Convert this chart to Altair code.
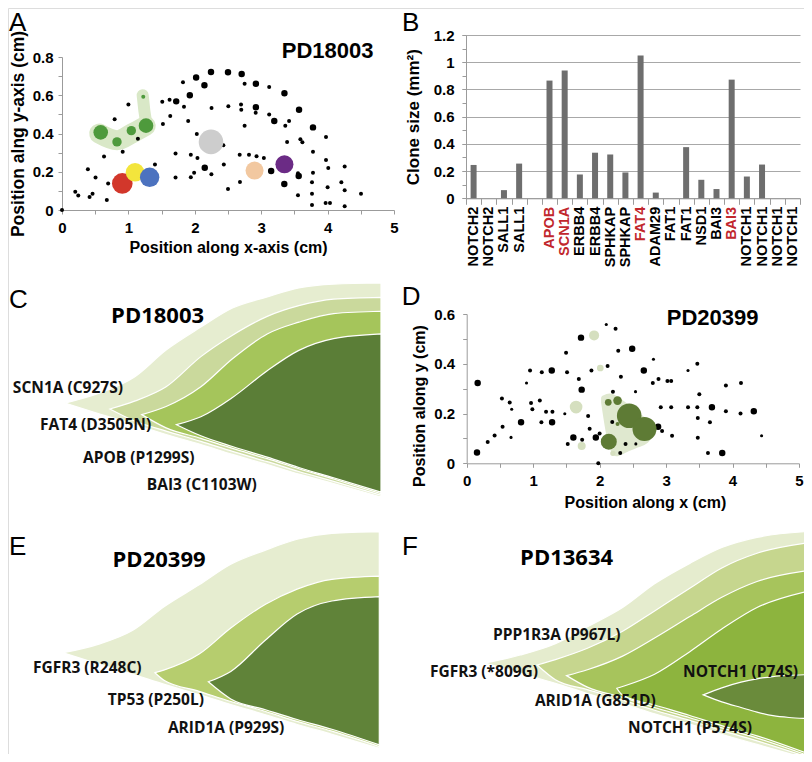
import altair as alt
import pandas as pd

W, H = 796, 746
AXF = "Liberation Sans"
FISHF = "Open Sans"
AXGRAY = "#9b9b9b"

# ---------------- Panel A (PD18003 map) ----------------
# (x cm, y cm, relative clone area)
a_dots = [(0, 0, 1), (0.2, 0.095, 1), (0.245, 0.076, 1), (0.39, 0.213, 1), (0.415, 0.068, 1),
          (0.46, 0.085, 1), (0.505, 0.17, 1), (0.633, 0.28, 1), (0.675, 0.052, 1), (0.695, 0.138, 1),
          (0.793, 0.475, 1), (0.914, 0.305, 1), (1.0, 0.551, 1), (1.143, 0.373, 1), (1.40, 0.238, 1),
          (1.52, 0.45, 1), (1.51, 0.566, 1), (1.62, 0.576, 1), (1.72, 0.568, 2.6), (1.63, 0.491, 1),
          (1.822, 0.668, 1), (1.837, 0.54, 1), (1.925, 0.60, 2.6), (1.90, 0.465, 1), (1.71, 0.296, 1),
          (1.71, 0.17, 1), (1.94, 0.289, 1), (1.94, 0.171, 1), (1.99, 0.195, 1), (2.02, 0.693, 2.6),
          (2.03, 0.398, 1), (2.04, 0.272, 1), (2.145, 0.652, 2.6), (2.15, 0.221, 2.6), (2.244, 0.722, 2.6),
          (2.252, 0.533, 1), (2.25, 0.187, 1), (2.43, 0.338, 1), (2.437, 0.238, 1), (2.5, 0.72, 2.6),
          (2.505, 0.542, 1), (2.5, 0.11, 1), (2.706, 0.711, 2.6), (2.75, 0.66, 1), (2.92, 0.66, 2.6),
          (3.12, 0.643, 1), (3.35, 0.61, 2.6), (2.696, 0.551, 1), (2.70, 0.524, 1), (2.92, 0.537, 2.6),
          (2.917, 0.509, 1), (3.12, 0.50, 1), (3.197, 0.465, 2.6), (3.363, 0.441, 1), (3.42, 0.465, 1),
          (3.57, 0.524, 2.6), (2.75, 0.441, 1), (3.39, 0.356, 1), (3.59, 0.37, 1), (3.62, 0.354, 1),
          (3.78, 0.432, 2.6), (3.976, 0.382, 1), (3.78, 0.305, 1), (2.676, 0.289, 1), (2.816, 0.289, 1),
          (2.93, 0.281, 1), (3.04, 0.272, 1), (3.15, 0.204, 2.6), (3.976, 0.261, 1), (4.01, 0.22, 1),
          (3.554, 0.192, 1), (3.565, 0.178, 2.6), (3.78, 0.195, 1), (4.257, 0.228, 1), (3.348, 0.136, 2.6),
          (2.68, 0.146, 1), (3.554, 0.077, 1), (3.765, 0.145, 1), (3.765, 0.085, 1), (3.765, 0.026, 1),
          (4.0, 0.119, 1), (4.207, 0.145, 1), (4.257, 0.103, 1), (3.97, 0.037, 1), (4.036, 0.037, 1),
          (4.257, 0.019, 1), (4.503, 0.085, 1)]
a_clone_x = [0.583, 0.828, 1.044, 1.265, 1.224, 0.908, 1.10, 1.32, 2.244, 2.90, 3.35]
a_clone_y = [0.406, 0.356, 0.415, 0.441, 0.592, 0.139, 0.197, 0.171, 0.356, 0.206, 0.239]
a_clone_s = [13.3, 5.5, 5.5, 13.3, 1.0, 26.5, 21.6, 23.5, 37.8, 20.3, 20.3]
a_clone_id = ["green", "green", "green", "green", "green", "red", "yellow", "blue", "grey", "peach", "purple"]
a_patch_body_x = [0.56, 0.83, 1.05, 1.26]
a_patch_body_y = [0.40, 0.365, 0.40, 0.44]
a_patch_arm_x = [1.27, 1.24, 1.215]
a_patch_arm_y = [0.45, 0.52, 0.60]

# ---------------- Panel B (clone sizes) ----------------
b_genes = ["NOTCH2", "NOTCH2", "SALL1", "SALL1", "", "APOB", "SCN1A", "ERBB4", "ERBB4", "SPHKAP",
           "SPHKAP", "FAT4", "ADAM29", "FAT1", "FAT1", "NSD1", "BAI3", "BAI3", "NOTCH1", "NOTCH1",
           "NOTCH1", "NOTCH1"]
b_size = [0.245, 0, 0.06, 0.255, 0, 0.865, 0.94, 0.175, 0.335, 0.322, 0.19, 1.05, 0.042, 0, 0.376,
          0.136, 0.068, 0.872, 0.16, 0.248, 0, 0]
b_highlight = [5, 6, 11, 17]

# ---------------- Panel D (PD20399 map) ----------------
d_dots = [(0.155, 0.043, 2.6), (0.316, 0.086, 1), (0.42, 0.112, 1), (0.165, 0.323, 2.6), (0.54, 0.147, 1),
          (0.53, 0.26, 1), (0.647, 0.244, 1), (0.677, 0.217, 0.6), (0.667, 0.104, 0.6), (0.818, 0.165, 2.6),
          (0.90, 0.323, 0.6), (0.953, 0.373, 1), (0.968, 0.242, 1), (0.988, 0.217, 1), (1.10, 0.252, 1),
          (1.124, 0.165, 1), (1.13, 0.366, 1), (1.194, 0.207, 1), (1.28, 0.373, 2.6), (1.29, 0.207, 1),
          (1.285, 0.165, 2.6), (1.476, 0.199, 0.6), (1.495, 0.444, 1), (1.51, 0.366, 1), (1.52, 0.078, 1),
          (1.605, 0.104, 2.6), (1.687, 0.339, 1), (1.72, 0.505, 2.6), (1.73, 0.296, 2.6), (1.737, 0.095, 1),
          (1.827, 0.19, 1), (1.85, 0.139, 1), (1.877, 0.373, 1), (1.943, 0.104, 2.6), (1.98, 0.0, 1),
          (2.0, 0.12, 1), (2.12, 0.391, 1), (2.10, 0.558, 0.6), (2.2, 0.288, 1), (2.19, 0.166, 1),
          (2.24, 0.541, 1), (2.28, 0.452, 1), (2.32, 0.348, 1), (2.31, 0.041, 1), (2.39, 0.078, 1),
          (2.49, 0.46, 2.6), (2.81, 0.418, 0.6), (2.665, 0.373, 2.6), (2.54, 0.288, 0.6), (2.8, 0.323, 1),
          (2.886, 0.339, 1), (3.02, 0.331, 1), (3.077, 0.331, 1), (3.33, 0.373, 0.6), (3.47, 0.40, 1),
          (3.5, 0.277, 1), (2.92, 0.225, 1), (3.077, 0.225, 1), (3.33, 0.225, 1), (3.47, 0.225, 1),
          (3.69, 0.225, 2.6), (3.477, 0.182, 1), (3.9, 0.209, 1), (4.12, 0.2, 1), (4.32, 0.209, 2.6),
          (3.90, 0.313, 1), (4.127, 0.323, 1), (3.66, 0.165, 1), (2.88, 0.147, 2.6), (2.94, 0.13, 1),
          (3.09, 0.111, 1), (3.477, 0.103, 1), (3.63, 0.041, 1), (3.845, 0.041, 2.6), (4.437, 0.111, 0.6),
          (2.545, 0.078, 0.6)]
d_clone_x = [1.646, 1.917, 2.01, 1.73, 2.2, 2.13, 2.27, 2.27, 2.138, 2.445, 2.675]
d_clone_y = [0.226, 0.514, 0.383, 0.07, 0.04, 0.245, 0.252, 0.158, 0.087, 0.191, 0.138]
d_clone_s = [10.0, 6.3, 2.8, 4.0, 1.8, 2.8, 4.6, 1.0, 16.0, 37.8, 36.0]
d_clone_id = ["light", "light", "light", "light", "light", "dark", "dark", "dark", "dark", "dark", "dark"]
d_patch_x = [2.06, 2.15, 2.25, 2.4, 2.55, 2.7, 2.78]
d_patch_top = [0.262, 0.27, 0.26, 0.23, 0.2, 0.165, 0.14]
d_patch_bot = [0.245, 0.1, 0.038, 0.055, 0.072, 0.09, 0.12]

# ---------------- Fish plots: (time, upper fraction, lower fraction) per clone ----------------
c_clones = [
    ([0, 11, 22, 32, 43, 53, 64, 74, 85, 100],
     [43.9, 48.6, 56.1, 68.7, 79.4, 88.3, 93.5, 97.7, 99.5, 100],
     [43.9, 38.8, 33.9, 29.2, 24.5, 19.9, 15.2, 10.7, 6.3, 0]),
    ([14.2, 22, 32, 43, 53, 64, 74, 85, 100],
     [41.1, 44.8, 51.5, 65.6, 75.6, 84.4, 89.4, 92.5, 93.3],
     [41.1, 35.5, 30.8, 26.0, 21.3, 16.5, 11.9, 7.3, 0.8]),
    ([24.3, 32, 43, 53, 64, 74, 85, 100],
     [38.5, 42.3, 51.5, 64.6, 76.2, 81.7, 85.7, 86.8],
     [38.5, 32.3, 27.4, 22.7, 17.9, 13.2, 8.4, 1.6]),
    ([35.3, 43, 53, 64, 74, 85, 100],
     [33.8, 37.5, 46.5, 59.0, 68.5, 74.0, 76.2],
     [33.8, 28.6, 23.6, 18.6, 13.8, 9.0, 2.3]),
]
c_labels = ["SCN1A (C927S)", "FAT4 (D3505N)", "APOB (P1299S)", "BAI3 (C1103W)"]
c_label_t = [-16.5, -7.9, 5.7, 25.9]
c_label_f = [48.6, 31.3, 15.9, 3.3]

e_clones = [
    ([0, 11, 22, 32, 43, 53, 64, 74, 85, 100],
     [44.1, 48.0, 54.5, 65.5, 75.5, 85.0, 91.5, 96.5, 99.2, 100],
     [44.1, 39.0, 34.2, 29.5, 24.8, 20.2, 15.5, 11.0, 6.5, 0]),
    ([29, 32, 43, 53, 64, 74, 85, 100],
     [34.9, 36.2, 43.5, 55.5, 66.5, 73.5, 78.0, 79.5],
     [34.9, 31.3, 26.3, 21.6, 17.0, 12.4, 7.9, 0.8]),
    ([45.9, 53, 64, 74, 85, 100],
     [30.7, 35.5, 50.0, 62.0, 68.0, 70.0],
     [30.7, 22.8, 17.8, 13.3, 8.8, 1.6]),
]
e_labels = ["FGFR3 (R248C)", "TP53 (P250L)", "ARID1A (P929S)"]
e_label_t = [-9.6, 14.1, 33.1]
e_label_f = [34.8, 20.0, 7.1]

f_clones = [
    ([0, 11, 22, 32, 43, 53, 64, 74, 85, 100],
     [42, 45.5, 50.5, 58, 66.5, 77, 86, 93, 97.5, 100],
     [42, 37.5, 33, 28.5, 24, 19.5, 15, 10.5, 6, 0]),
    ([16.3, 22, 32, 43, 53, 64, 74, 85, 100],
     [41.1, 43.5, 48.5, 56, 65, 75, 84, 90.5, 94.9],
     [41.1, 34.6, 30.2, 25.6, 21.1, 16.6, 12.1, 7.6, 0.8]),
    ([25.5, 32, 43, 53, 64, 74, 85, 100],
     [36.4, 39, 45, 53, 62.5, 71, 78, 82.6],
     [36.4, 31.3, 26.8, 22.3, 17.8, 13.3, 8.8, 1.6]),
    ([41.2, 43, 53, 64, 74, 85, 100],
     [30.8, 31.6, 37, 47, 57, 66.5, 73.4],
     [30.8, 27.8, 23.4, 18.8, 14.3, 9.8, 2.4]),
    ([68.2, 74, 80, 85, 90, 95, 100],
     [27.9, 31, 33.5, 35, 36, 36.5, 36.8],
     [27.9, 24.8, 22.3, 20.3, 18.7, 17.9, 17.5]),
]
f_labels = ["PPP1R3A (P967L)", "FGFR3 (*809G)", "ARID1A (G851D)", "NOTCH1 (P74S)", "NOTCH1 (P574S)"]
f_label_t = [2.5, -17.2, 15.6, 61.9, 44.7]
f_label_f = [52.1, 35.8, 23.0, 35.8, 11.0]

# ---------------- styles ----------------
c_colors = ["#e6edd0", "#cad99c", "#a5c55b", "#5b7e37"]
e_colors = ["#e6edd0", "#b6cd6e", "#608339"]
f_colors = ["#e5ecce", "#c6d68e", "#a7c45c", "#8db43e", "#6a8b3b"]


def frange(n, step):
    return [round(i * step, 2) for i in range(n)]


def txt(df, size, font=AXF, weight="bold", align="left", color="black"):
    return alt.Chart(df).mark_text(align=align, baseline="alphabetic", font=font, fontSize=size,
                                   fontWeight=weight, color=color)


def scatter_axes(xoff, yoff, ymax, xtitle, ytitle, xtitle_x=None, ytitle_y=None, xpad=4, ypad=10,
                 ylabpad=5, ytsize=16):
    common = dict(domainColor=AXGRAY, tickColor=AXGRAY, tickSize=4, grid=False,
                  labelFont=AXF, labelFontWeight="bold", labelFontSize=15, labelColor="black",
                  titleFont=AXF, titleFontWeight="bold", titleColor="black",
                  labelOverlap=False, labelFlush=False, format="~g")
    xkw = dict(orient="bottom", offset=xoff, values=frange(11, 0.5),
               labelExpr="datum.value % 1 == 0 ? datum.label : ''", labelPadding=6,
               title=xtitle, titlePadding=xpad, titleFontSize=16, **common)
    if xtitle_x is not None:
        xkw["titleX"] = xtitle_x
    ykw = dict(orient="left", offset=yoff, values=frange(int(round(ymax * 10)) + 1, 0.1),
               labelExpr="round(datum.value * 10) % 2 == 0 ? datum.label : ''", labelPadding=ylabpad,
               title=ytitle, titlePadding=ypad, titleFontSize=ytsize, **common)
    if ytitle_y is not None:
        ykw["titleY"] = ytitle_y
    return alt.Axis(**xkw), alt.Axis(**ykw)


def enc(chart, xs, ys, xf="x:Q", yf="y:Q", **kw):
    return chart.encode(x=alt.X(xf, scale=xs, axis=None), y=alt.Y(yf, scale=ys, axis=None), **kw)


layers = []

# ================= Panel A =================
ax_s = alt.Scale(domain=[0, 5], range=[54, 386], nice=False, zero=False)
ay_s = alt.Scale(domain=[0, 0.8], range=[202, 49], nice=False, zero=False)
size_s = alt.Scale(domain=[0, 40], range=[0, 640])
a_xaxis, a_yaxis = scatter_axes(202 - H, -54, 0.8, "Position along x-axis (cm)", "Position alng y-axis (cm)",
                                ypad=5, ytsize=17.5)

a_dots_df = pd.DataFrame(a_dots, columns=["x", "y", "s"])
a_clone_df = pd.DataFrame({"x": a_clone_x, "y": a_clone_y, "s": a_clone_s, "clone": a_clone_id,
                           "o": list(range(len(a_clone_x)))})
a_body_df = pd.DataFrame({"x": a_patch_body_x, "y": a_patch_body_y, "i": range(len(a_patch_body_x))})
a_arm_df = pd.DataFrame({"x": a_patch_arm_x, "y": a_patch_arm_y, "i": range(len(a_patch_arm_x))})

layers.append(enc(alt.Chart(a_body_df).mark_line(strokeWidth=20, strokeCap="round", strokeJoin="round",
                                                 color="#d9e8c7", interpolate="monotone"),
                  ax_s, ay_s, order="i:Q"))
layers.append(enc(alt.Chart(a_arm_df).mark_line(strokeWidth=12, strokeCap="round", strokeJoin="round",
                                                color="#d9e8c7"),
                  ax_s, ay_s, order="i:Q"))
layers.append(alt.Chart(a_dots_df).mark_circle(color="black", opacity=1).encode(
    x=alt.X("x:Q", scale=ax_s, axis=a_xaxis),
    y=alt.Y("y:Q", scale=ay_s, axis=a_yaxis),
    size=alt.Size("s:Q", scale=size_s, legend=None)))
layers.append(enc(alt.Chart(a_clone_df).mark_circle(opacity=1), ax_s, ay_s,
                  size=alt.Size("s:Q", scale=size_s, legend=None),
                  color=alt.Color("clone:N", legend=None,
                                  scale=alt.Scale(domain=["green", "red", "yellow", "blue", "grey", "peach", "purple"],
                                                  range=["#4e9a3c", "#d2372b", "#f3e53c", "#4c72bf", "#cdcdcd",
                                                         "#f2c8a0", "#6b2b85"])),
                  order="o:Q"))
layers.append(enc(txt(pd.DataFrame({"x": [4.0], "y": [0.795], "t": ["PD18003"]}), 22, align="center"),
                  ax_s, ay_s, text="t:N"))
layers.append(enc(txt(pd.DataFrame({"x": [-0.80, 5.12], "y": [0.935, 0.935], "t": ["A", "B"]}), 26,
                      weight="normal"), ax_s, ay_s, text="t:N"))

# ================= Panel B =================
keys = [f"{i:02d}" for i in range(len(b_genes))]
b_df = pd.DataFrame({"k": keys, "v": b_size})
names_js = "[" + ",".join("'" + g + "'" for g in b_genes) + "]"
hl_js = "[" + ",".join(str(i) for i in b_highlight) + "]"
bx_s = alt.Scale(domain=keys, range=[458, 792], paddingInner=0, paddingOuter=0)
by_s = alt.Scale(domain=[0, 1.2], range=[190.3, 27], nice=False, zero=False)
b_xaxis = alt.Axis(orient="bottom", offset=190.3 - H, tickBand="extent", tickSize=6, tickColor=AXGRAY,
                   domainColor=AXGRAY, labelAngle=-90, labelPadding=2,
                   labelExpr=names_js + "[toNumber(datum.value)]",
                   labelColor={"condition": {"test": "indexof(" + hl_js + ", toNumber(datum.value)) >= 0",
                                             "value": "#c1272d"}, "value": "black"},
                   labelFont=AXF, labelFontWeight="bold", labelFontSize=14.5, labelOverlap=False,
                   title=None, grid=False)
b_yaxis = alt.Axis(orient="left", offset=-458, values=frange(7, 0.2), format="~g", grid=True,
                   gridColor="#a8a8a8", domainColor=AXGRAY, tickColor=AXGRAY, tickSize=4, labelPadding=8,
                   labelFont=AXF, labelFontWeight="bold", labelFontSize=15, labelColor="black",
                   title="Clone size (mm²)", titleFont=AXF, titleFontWeight="bold", titleFontSize=17,
                   titlePadding=11, labelOverlap=False, labelFlush=False)
b_minor = alt.Axis(orient="left", offset=-458, values=frange(13, 0.1), labels=False, domain=False,
                   grid=False, tickColor=AXGRAY, tickSize=4, title=None)
layers.append(alt.Chart(b_df).mark_bar(size=6, color="#6e6e6e").encode(
    x=alt.X("k:N", sort=keys, scale=bx_s, axis=b_xaxis),
    y=alt.Y("v:Q", scale=by_s, axis=b_yaxis)))
layers.append(alt.Chart(b_df).mark_bar(size=6, opacity=0).encode(
    x=alt.X("k:N", sort=keys, scale=bx_s, axis=None),
    y=alt.Y("v:Q", scale=by_s, axis=b_minor)))

# ================= Panel D =================
dx_s = alt.Scale(domain=[0, 5], range=[458.7, 791], nice=False, zero=False)
dy_s = alt.Scale(domain=[0, 0.6], range=[455.3, 306], nice=False, zero=False)
d_xaxis, d_yaxis = scatter_axes(455.3 - H, -458.7, 0.6, "Position along x (cm)", "Position along y (cm)",
                                xtitle_x=637, ytitle_y=397.5, xpad=6, ypad=6, ylabpad=8)
d_dots_df = pd.DataFrame(d_dots, columns=["x", "y", "s"])
d_clone_df = pd.DataFrame({"x": d_clone_x, "y": d_clone_y, "s": d_clone_s, "clone": d_clone_id,
                           "o": list(range(len(d_clone_x)))})
d_patch_df = pd.DataFrame({"x": d_patch_x, "top": d_patch_top, "bot": d_patch_bot})
layers.append(enc(alt.Chart(d_patch_df).mark_area(fill="#dfe8cf", stroke="#dfe8cf", strokeWidth=5,
                                                  strokeJoin="round", interpolate="monotone", opacity=1),
                  dx_s, dy_s, yf="top:Q", y2="bot:Q"))
layers.append(alt.Chart(d_dots_df).mark_circle(color="black", opacity=1).encode(
    x=alt.X("x:Q", scale=dx_s, axis=d_xaxis),
    y=alt.Y("y:Q", scale=dy_s, axis=d_yaxis),
    size=alt.Size("s:Q", scale=size_s, legend=None)))
layers.append(enc(alt.Chart(d_clone_df).mark_circle(opacity=1), dx_s, dy_s,
                  size=alt.Size("s:Q", scale=size_s, legend=None),
                  color=alt.Color("clone:N", legend=None,
                                  scale=alt.Scale(domain=["light", "dark"], range=["#d5dfbf", "#5e7b35"])),
                  order="o:Q"))
layers.append(enc(txt(pd.DataFrame({"x": [3.70], "y": [0.556], "t": ["PD20399"]}), 22, align="center"),
                  dx_s, dy_s, text="t:N"))
layers.append(enc(txt(pd.DataFrame({"x": [-0.979], "y": [0.636], "t": ["D"]}), 26, weight="normal"),
                  dx_s, dy_s, text="t:N"))


# ================= Fish plots =================
def fish(clones, colors, xr, yr, labels, lt, lf, title, title_tf, letter, letter_tf):
    xs = alt.Scale(domain=[0, 100], range=xr, nice=False, zero=False)
    ys = alt.Scale(domain=[0, 100], range=yr, nice=False, zero=False)
    out = []
    for (t, top, bot), col in zip(clones, colors):
        df = pd.DataFrame({"t": t, "top": top, "bot": bot})
        out.append(enc(alt.Chart(df).mark_area(fill=col, stroke="white", strokeWidth=1.2,
                                               interpolate="monotone", opacity=1),
                       xs, ys, xf="t:Q", yf="top:Q", y2="bot:Q"))
    lab = pd.DataFrame({"t": lt, "f": lf, "s": labels})
    out.append(enc(txt(lab, 15.5, font=FISHF, color="#111111"), xs, ys, xf="t:Q", yf="f:Q", text="s:N"))
    tdf = pd.DataFrame({"t": [title_tf[0]], "f": [title_tf[1]], "s": [title]})
    out.append(enc(txt(tdf, 22, font=FISHF, align="center"), xs, ys, xf="t:Q", yf="f:Q", text="s:N"))
    ldf = pd.DataFrame({"t": [letter_tf[0]], "f": [letter_tf[1]], "s": [letter]})
    out.append(enc(txt(ldf, 26, weight="normal"), xs, ys, xf="t:Q", yf="f:Q", text="s:N"))
    return out


layers += fish(c_clones, c_colors, [57, 373], [489, 275], c_labels, c_label_t, c_label_f,
               "PD18003", (29.3, 81.3), "C", (-17.7, 88.3))
layers += fish(e_clones, e_colors, [55.3, 371.3], [740.3, 523.7], e_labels, e_label_t, e_label_f,
               "PD20399", (30.3, 83.7), "E", (-17.2, 89.2))
layers += fish(f_clones, f_colors, [477, 797], [750, 523.7], f_labels, f_label_t, f_label_f,
               "PD13634", (25.5, 85.3), "F", (-25.9, 89.7))

chart = alt.layer(*layers).resolve_scale(
    x="independent", y="independent", color="independent", size="independent"
).resolve_axis(x="independent", y="independent").properties(
    width=W, height=H, autosize=alt.AutoSizeParams(type="none"), padding=0
).configure_view(stroke=None).configure(background="white")

chart.save("out.html", embed_options={"renderer": "svg", "actions": False})
